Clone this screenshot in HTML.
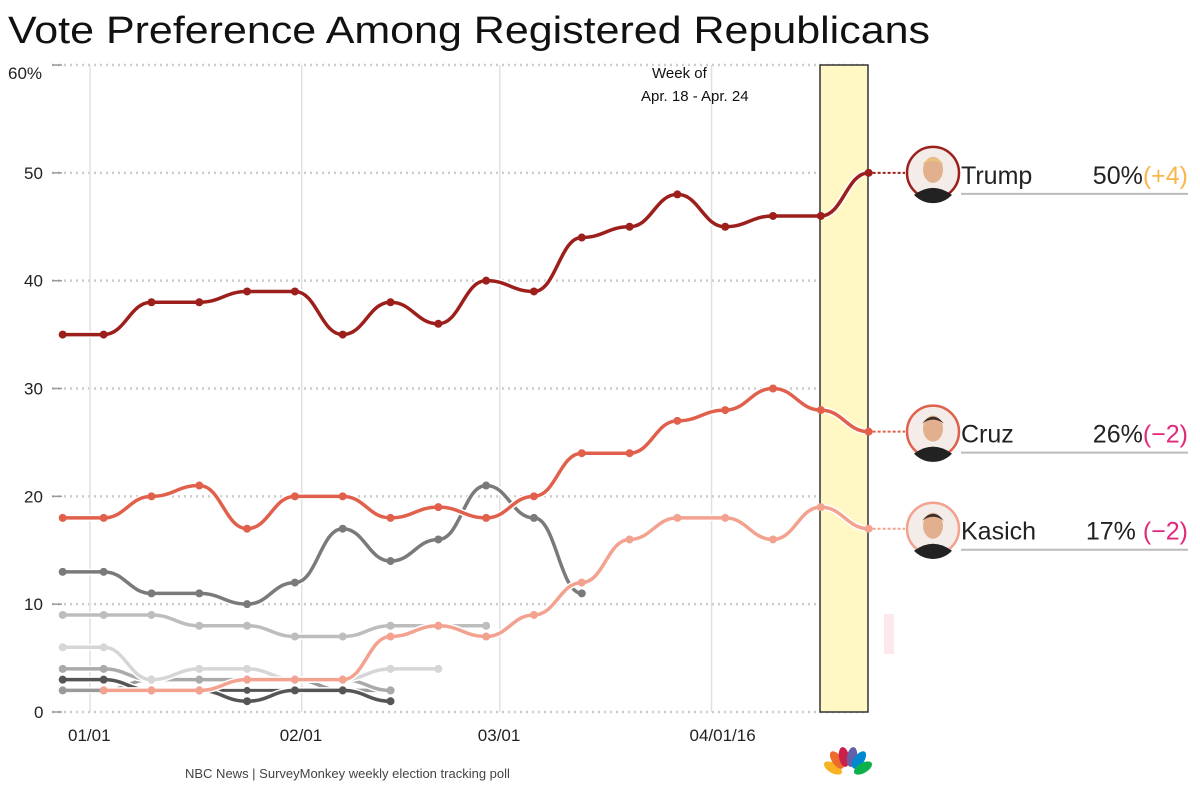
<!DOCTYPE html>
<html><head><meta charset="utf-8"><style>
body{margin:0;background:#fff;font-family:"Liberation Sans",sans-serif}
svg{display:block}
</style></head><body>
<svg id="c" width="1200" height="794" xmlns="http://www.w3.org/2000/svg">
<text x="8" y="43" font-size="38" fill="#111" textLength="922" lengthAdjust="spacingAndGlyphs">Vote Preference Among Registered Republicans</text>
<g id="grid"></g>
<rect x="820" y="65" width="48" height="647" fill="#fff8c4" stroke="#333" stroke-width="1.5"/>
<rect x="884" y="614" width="10" height="40" fill="#fde8ec"/>
<text x="652" y="78" font-size="15" fill="#111">Week of</text>
<text x="641" y="101" font-size="15" fill="#111">Apr. 18 - Apr. 24</text>
<g id="series"></g>
<g id="labels"></g>
<text x="185" y="778" font-size="13" fill="#444">NBC News | SurveyMonkey weekly election tracking poll</text>
<g transform="translate(848,766)">
<ellipse cx="-15" cy="2" rx="5" ry="10" transform="rotate(-60 -15 2)" fill="#f9b322"/>
<ellipse cx="-11" cy="-6" rx="5" ry="10" transform="rotate(-35 -11 -6)" fill="#ef6b2b"/>
<ellipse cx="-4" cy="-9" rx="5" ry="10" transform="rotate(-10 -4 -9)" fill="#cc1e4a"/>
<ellipse cx="4" cy="-9" rx="5" ry="10" transform="rotate(10 4 -9)" fill="#6460aa"/>
<ellipse cx="11" cy="-6" rx="5" ry="10" transform="rotate(35 11 -6)" fill="#0089d0"/>
<ellipse cx="15" cy="2" rx="5" ry="10" transform="rotate(60 15 2)" fill="#0db14b"/>
</g>
</svg>
<script>
// data
const weekDays = [-4,2,9,16,23,30,37,44,51,58,65,72,79,86,93,100,107,114];
const yTicks = [0,10,20,30,40,50,60];
const yTickLabels = ["0","10","20","30","40","50","60%"];
const xTickDays = [0,31,60,91];
const xTickLabels = ["01/01","02/01","03/01","04/01/16"];
const trump = [35,35,38,38,39,39,35,38,36,40,39,44,45,48,45,46,46,50];
const cruz = [18,18,20,21,17,20,20,18,19,18,20,24,24,27,28,30,28,26];
const kasich = [null,2,2,2,3,3,3,7,8,7,9,12,16,18,18,16,19,17];
const carson = [13,13,11,11,10,12,17,14,16,21,18,11];
const rubio = [9,9,9,8,8,7,7,8,8,8];
const lightA = [6,6,3,4,4,3,3,4,4];
const grayB = [4,4,3,3,3,3,3,2];
const darkC = [3,3,2,2,1,2,2,1];
const grayD = [2,2,3,3,3,3,2,2];
const darkE = [2,2,2,2,2,2,2];
const names = ["Trump","Cruz","Kasich"];
const pcts = ["50%","26%","17%"];
const changes = ["(+4)","(−2)","(−2)"];

const NS="http://www.w3.org/2000/svg";
const X = d => 90 + d*6.83;
const Y = v => 712 - v*10.783;
function mk(tag, attrs, parent){const e=document.createElementNS(NS,tag);for(const k in attrs)e.setAttribute(k,attrs[k]);parent.appendChild(e);return e;}
const grid=document.getElementById('grid');
yTicks.forEach((t,i)=>{
  const l=mk('line',{x1:52,x2:868,y1:Y(t),y2:Y(t),stroke:'#ccc','stroke-width':2.5,'stroke-dasharray':'2 4'},grid);
  
  
  const tk=mk('line',{x1:52,x2:62,y1:Y(t),y2:Y(t),stroke:'#999','stroke-width':1.5},grid);
  
  
  const tx=mk('text',{x:i==6?8:(t==0?34:24),y:Y(t)+(i==6?14:6),'font-size':17,fill:'#222'},grid);
  tx.textContent=yTickLabels[i];
  
  
});
xTickDays.forEach((d,i)=>{
  const l=mk('line',{x1:X(d),x2:X(d),y1:65,y2:712,stroke:'#e0e0e0','stroke-width':1.5},grid);
  
  
  const tx=mk('text',{x:X(d)-22,y:741,'font-size':17,fill:'#222'},grid);
  tx.textContent=xTickLabels[i];
  
  
});
function curve(pts){
  let d=`M${pts[0][0]},${pts[0][1]}`;
  for(let i=0;i<pts.length-1;i++){
    const p0=pts[i],p1=pts[i+1],dx=(p1[0]-p0[0])/2.2;
    d+=` C${p0[0]+dx},${p0[1]} ${p1[0]-dx},${p1[1]} ${p1[0]},${p1[1]}`;
  }
  return d;
}
const sg=document.getElementById('series');
function drawSeries(vals,color,name,w,r){
  const pts=[];vals.forEach((v,i)=>{if(v!=null)pts.push([X(weekDays[i]),Y(v)]);});
  const g=mk('g',{},sg);
  
  
  mk('path',{d:curve(pts),fill:'none',stroke:'#fff','stroke-width':w+3},g);
  const p2=mk('path',{d:curve(pts),fill:'none',stroke:color,'stroke-width':w},g);
  
  
  pts.forEach(q=>{const c=mk('circle',{cx:q[0],cy:q[1],r:r,fill:color},g);
    
    });
  return pts;
}
drawSeries(darkE,'#555','other-e',3,3.5);
drawSeries(grayD,'#999','other-d',3.5,4);
drawSeries(darkC,'#555','other-c',3.5,4);
drawSeries(grayB,'#aaa','other-b',3.5,4);
drawSeries(lightA,'#d6d6d6','other-a',3.5,4);
drawSeries(rubio,'#bdbdbd','rubio',3.5,4);
drawSeries(carson,'#7a7a7a','carson',3.5,4);
const kp=drawSeries(kasich,'#f3a290','kasich',3.5,4);
const cp=drawSeries(cruz,'#e0604c','cruz',3.5,4);
const tp=drawSeries(trump,'#9c1f1b','trump',3.5,4);
const lg=document.getElementById('labels');
const lasts=[[tp,'#9c1f1b'],[cp,'#e0604c'],[kp,'#f3a290']];
lasts.forEach((s,i)=>{
  const q=s[0][s[0].length-1],col=s[1],cy=q[1];
  const g=mk('g',{},lg);
  
  
  mk('line',{x1:q[0]+4,x2:905,y1:cy,y2:cy,stroke:col,'stroke-width':2,'stroke-dasharray':'3 2'},g);
  const av=mk('circle',{cx:933,cy:cy,r:26,fill:'#f3ece8',stroke:col,'stroke-width':2.5},g);
  
  
  mk('path',{d:`M914,${cy+22} Q933,${cy+8} 952,${cy+22} A26,26 0 0 1 914,${cy+22}Z`,fill:'#222'},g);
  mk('ellipse',{cx:933,cy:cy-3,rx:10,ry:13,fill:'#e3b08f'},g);
  mk('path',{d:`M922,${cy-8} Q933,${cy-22} 944,${cy-8} Q933,${cy-16} 922,${cy-8}Z`,fill:i==0?'#e6c27a':'#3a2e28'},g);
  const n=mk('text',{x:961,y:cy+11,'font-size':25,fill:'#222'},g);n.textContent=names[i];
  
  
  const t=mk('text',{x:1188,y:cy+11,'font-size':25,fill:'#222','text-anchor':'end'},g);
  const a=mk('tspan',{},t);a.textContent=pcts[i]+(i==2?' ':'');
  const b=mk('tspan',{fill:i==0?'#f8b64b':'#e0287d'},t);b.textContent=changes[i];
  
  
  mk('line',{x1:961,x2:1188,y1:cy+21,y2:cy+21,stroke:'#bbb','stroke-width':2},g);
});
</script>
</body></html>
